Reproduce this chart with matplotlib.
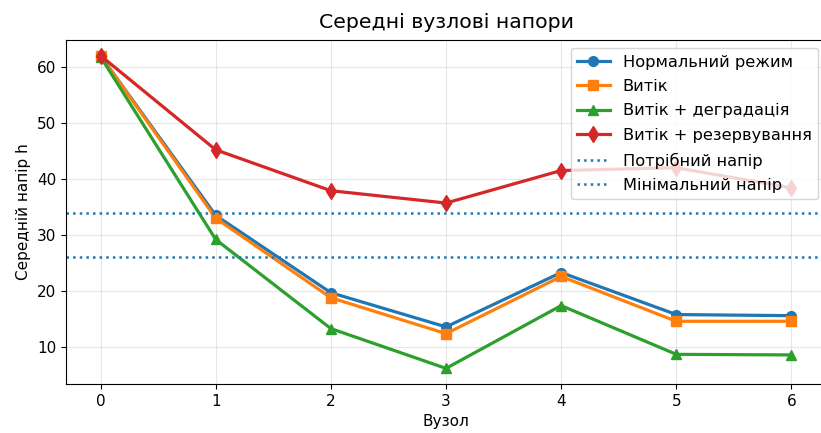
import matplotlib
matplotlib.use("Agg")
import matplotlib.pyplot as plt

nodes = [0, 1, 2, 3, 4, 5, 6]
normal = [62.0, 33.5, 19.7, 13.6, 23.3, 15.8, 15.6]
leak = [62.0, 33.0, 18.8, 12.4, 22.6, 14.6, 14.6]
leak_degr = [61.8, 29.2, 13.3, 6.2, 17.4, 8.7, 8.6]
leak_reserve = [62.0, 45.2, 37.9, 35.7, 41.5, 42.0, 38.4]
required_head = 34
minimum_head = 26

fig = plt.figure(figsize=(8.21, 4.33), dpi=100)
ax = fig.add_axes([66/821, 49/433, (826-66)/821, (384-40)/433])
ax.plot(nodes, normal, marker='o', lw=2.3, ms=7, color='C0', label='Нормальний режим')
ax.plot(nodes, leak, marker='s', lw=2.3, ms=7, color='C1', label='Витік')
ax.plot(nodes, leak_degr, marker='^', lw=2.3, ms=7, color='C2', label='Витік + деградація')
ax.plot(nodes, leak_reserve, marker='d', lw=2.3, ms=8, color='C3', label='Витік + резервування')
ax.axhline(required_head, ls=':', lw=1.8, color='C0', label='Потрібний напір')
ax.axhline(minimum_head, ls=':', lw=1.8, color='C0', label='Мінімальний напір')
ax.set_title('Середні вузлові напори', fontsize=14.7, pad=9)
ax.set_xlabel('Вузол', fontsize=11)
ax.set_ylabel('Середній напір h', fontsize=11)
ax.set_xticks(nodes)
ax.tick_params(labelsize=11)
ax.grid(True, alpha=0.3)
ax.legend(loc='upper right', fontsize=11.7, labelspacing=0.58, bbox_to_anchor=(1.0, 1.0))
fig.savefig('out.png', dpi=100)
